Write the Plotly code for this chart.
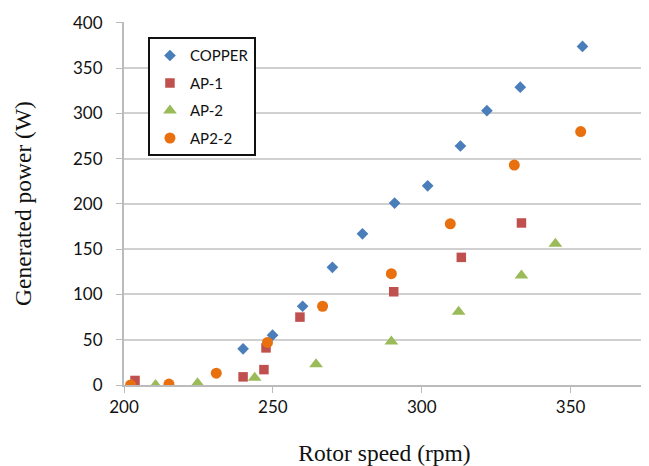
import plotly.graph_objects as go

copper_x = [240.0, 249.9, 260.0, 270.0, 280.1, 290.9, 302.0, 313.0, 321.9, 333.1, 354.0]
copper_y = [40, 55, 87, 130, 167, 201, 220, 264, 303, 329, 374]

ap1_x = [203.7, 240.0, 247.0, 247.7, 259.1, 290.6, 313.3, 333.5]
ap1_y = [5, 9, 17, 41, 75, 103, 141, 179]

ap2_x = [202.6, 210.6, 224.7, 243.9, 264.5, 289.8, 312.4, 333.5, 344.9]
ap2_y = [0, 0, 2, 8, 23, 48, 81, 121, 156]

ap22_x = [202.2, 215.1, 231.0, 248.2, 266.7, 289.8, 309.6, 331.1, 353.4]
ap22_y = [0, 1, 13, 47, 87, 123, 178, 243, 280]

y_ticks = [0, 50, 100, 150, 200, 250, 300, 350, 400]
x_ticks = [200, 250, 300, 350]

fig = go.Figure()
fig.add_trace(go.Scatter(x=copper_x, y=copper_y, mode="markers", name="COPPER", legendgroup="a",
                         marker=dict(symbol="diamond", size=9, color="#4A7EBB")))
fig.add_trace(go.Scatter(x=ap1_x, y=ap1_y, mode="markers", name="AP-1", legendgroup="b",
                         marker=dict(symbol="square", size=9.5, color="#C0504D")))
fig.add_trace(go.Scatter(x=ap2_x, y=ap2_y, mode="markers", name="AP-2", legendgroup="c",
                         marker=dict(symbol="triangle-up", size=12, color="#9BBB59")))
fig.add_trace(go.Scatter(x=ap22_x, y=ap22_y, mode="markers", name="AP2-2", legendgroup="d",
                         marker=dict(symbol="circle", size=11, color="#E8700E")))

tickfont = dict(family="Lato, Liberation Sans, sans-serif", size=17, color="#111111")
titlefont = dict(family="Liberation Serif, Times New Roman, serif", size=23.5, color="#111111")

fig.update_layout(
    width=641, height=458,
    margin=dict(l=116, r=4, t=8, b=77),
    paper_bgcolor="white", plot_bgcolor="white",
    showlegend=True,
    legend=dict(x=0.046, y=0.958, xanchor="left", yanchor="top",
                bordercolor="#111111", borderwidth=2, bgcolor="white",
                font=dict(family="Lato, Liberation Sans, sans-serif", size=15, color="#111111"),
                traceorder="grouped", tracegroupgap=5),
    xaxis=dict(range=[200, 375], tickvals=x_ticks, ticks="outside", ticklen=6,
               tickcolor="#BBBBBB", showgrid=False, showline=True, linecolor="#BBBBBB", linewidth=2,
               zeroline=False, tickfont=tickfont, ticklabeloverflow="allow",
               title=dict(text="Rotor speed (rpm)", standoff=28, font=titlefont)),
    yaxis=dict(range=[0, 401], tickvals=y_ticks, showgrid=True, gridcolor="#D0D0D0", gridwidth=2,
               showline=True, linecolor="#BBBBBB", linewidth=2, zeroline=False,
               ticks="outside", ticklen=6, tickcolor="#BBBBBB", ticklabelstandoff=10,
               tickfont=tickfont, ticklabeloverflow="allow",
               title=dict(text="Generated power (W)", standoff=35, font=titlefont)),
)

fig.write_html("out.html")
